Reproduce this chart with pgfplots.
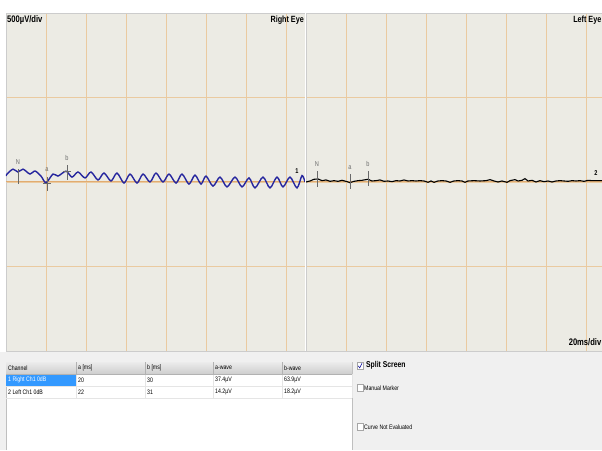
\documentclass[border=0pt]{standalone}
\usepackage{pgfplots}
\pgfplotsset{compat=1.18}
\usepackage{fontspec}
\setmainfont{Liberation Sans}
\newfontfamily\cond[FakeStretch=0.8]{Liberation Sans}

\definecolor{chartbg}{RGB}{236,235,228}
\definecolor{gridor}{RGB}{234,202,160}
\definecolor{baseor}{RGB}{226,172,112}
\definecolor{bluetrace}{RGB}{38,38,158}
\definecolor{markgray}{RGB}{105,105,105}
\definecolor{hdrgray}{RGB}{206,206,206}
\definecolor{selblue}{RGB}{51,153,255}
\definecolor{panelgray}{RGB}{240,240,240}

\pgfplotsset{erg/.style={
  anchor=south west, scale only axis, height=338pt,
  ymin=-1000, ymax=1000,
  xtick={20,40,...,140}, ytick={-500,0,500},
  xticklabels={}, yticklabels={},
  major tick length=0pt,
  grid=major, major grid style={draw=gridor, line width=0.9pt},
  axis line style={draw=gray!40, line width=0.6pt},
  axis background/.style={fill=chartbg},
}}
\tikzset{mk/.style={markgray, line width=0.6pt},
  mklab/.style={font=\cond\fontsize{7}{7}\selectfont, text=markgray}}

\begin{document}
\begin{tikzpicture}
\useasboundingbox (0,0) rectangle (602pt,450pt);
\fill[white] (0,0) rectangle (602pt,450pt);
\fill[panelgray] (0,0) rectangle (602pt,98pt);

% Right eye panel
\begin{axis}[erg, at={(6pt,99pt)}, width=299pt, xmin=0, xmax=149.5]
\addplot[baseor, line width=1pt] coordinates {(0,0) (149.5,0)};
\addplot[bluetrace, line width=1.4pt, smooth] coordinates {
(0,35) (0.5,47) (3.5,76) (6,59) (8.5,76) (12,47) (14.5,65) (17.5,35)
(20,-4) (23.5,47) (26,35) (30,64) (33,29) (36,59) (39.5,24) (42.5,59)
(46,12) (49,53) (52.5,6) (55.5,53) (59,-6) (62,47) (65.5,-6) (68.5,47)
(72,0) (75,53) (78.5,0) (81.5,47) (85,-6) (88,47) (91.5,-12) (94.5,41)
(97.5,-12) (100,35) (103.5,-24) (107,29) (110.5,-29) (114.5,29) (118,-29)
(121.5,24) (124.5,-35) (128.5,29) (132,-35) (135.5,29) (138.5,-29) (142,29)
(145.5,-35) (148,38) (149.5,0)};
\addplot[mk] coordinates {(6,76) (6,-12)};
\addplot[mk] coordinates {(20.5,29) (20.5,-53)};
\addplot[mk] coordinates {(18.5,-6) (22.5,-6)};
\addplot[mk] coordinates {(30.5,100) (30.5,12)};
\addplot[mk] coordinates {(28.5,65) (32.5,65)};
\node[mklab] at (axis cs:6,118) {N};
\node[mklab] at (axis cs:20.5,76) {a};
\node[mklab] at (axis cs:30.5,141) {b};
\node[font=\cond\bfseries\fontsize{7}{7}\selectfont] at (axis cs:145.5,65) {1};
\end{axis}

% Left eye panel
\begin{axis}[erg, at={(306pt,99pt)}, width=296pt, xmin=0, xmax=148]
\addplot[baseor, line width=1pt] coordinates {(0,0) (148,0)};
\addplot[black, line width=1.1pt] coordinates {
(0,0) (2,6) (4,16) (6,18) (8,8) (10,12) (12,4) (14,8) (16,4) (18,10)
(20,4) (22,-4) (24,4) (26,8) (28,10) (31,16) (33,6) (35,8) (37,12) (39,4)
(41,6) (43,2) (45,8) (47,6) (49,12) (51,6) (53,8) (55,6) (57,8) (59,6)
(61,-2) (62.5,6) (64,-2) (66,6) (68,8) (70,6) (72,-2) (74,6) (76,8) (78,6)
(79.5,-2) (81,6) (84,8) (87,6) (90,8) (92,14) (94,6) (96,0) (98,6)
(100.5,-2) (102,8) (104.5,14) (106,6) (108,10) (109.5,20) (111,6) (113,10)
(115,0) (117,8) (119,2) (121,6) (123,0) (125,6) (127,8) (129,6) (131,4)
(133,8) (135,6) (137,8) (139,4) (141,10) (143,8) (145.5,8) (148,8)};
\addplot[mk] coordinates {(5.5,65) (5.5,-29)};
\addplot[mk] coordinates {(22,47) (22,-41)};
\addplot[mk] coordinates {(31,65) (31,-24)};
\node[mklab] at (axis cs:5.5,106) {N};
\node[mklab] at (axis cs:22,82) {a};
\node[mklab] at (axis cs:31,106) {b};
\node[font=\cond\bfseries\fontsize{7}{7}\selectfont] at (axis cs:145,50) {2};
\end{axis}

\begin{scope}[x=1pt, y=-1pt, yshift=450pt]
% white split between the two panels
\draw[white, line width=1pt] (305.5,13.5) -- (305.5,351);
% chart captions
\node[anchor=west, inner sep=0pt, font=\cond\bfseries\fontsize{9.5}{9.5}\selectfont] at (7,20) {500µV/div};
\node[anchor=east, inner sep=0pt, font=\cond\bfseries\fontsize{9}{9}\selectfont] at (304,20) {Right Eye};
\node[anchor=east, inner sep=0pt, font=\cond\bfseries\fontsize{9}{9}\selectfont] at (601.5,20) {Left Eye};
\node[anchor=east, inner sep=0pt, font=\cond\bfseries\fontsize{9.5}{9.5}\selectfont] at (601.5,342) {20ms/div};

% table
\fill[white] (6,362) rectangle (352,450);
\draw[gray!50] (6,450) -- (6,362) -- (352,362) -- (352,450);
\shade[top color=gray!15, bottom color=hdrgray] (6,362) rectangle (352,374);
\fill[selblue] (6,374) rectangle (76,386);
\foreach \x in {76,145,213,282}
  \draw[gray!60] (\x,362) -- (\x,374);
\foreach \x in {76,145,213,282,352}
  \draw[gray!20] (\x,374) -- (\x,398);
\draw[gray!60] (6,374) -- (352,374);
\draw[gray!20] (6,386) -- (352,386) (6,398) -- (352,398);
\begin{scope}[every node/.style={anchor=west, inner sep=0pt, font=\cond\fontsize{6.5}{6.5}\selectfont}]
\node at (8,368) {Channel};
\node at (78,368) {a [ms]};
\node at (147,368) {b [ms]};
\node at (215,368) {a-wave};
\node at (284,368) {b-wave};
\node[text=white] at (8,380) {1 Right Ch1 0dB};
\node at (78,380) {20};
\node at (147,380) {30};
\node at (215,380) {37.4µV};
\node at (284,380) {63.9µV};
\node at (8,392) {2 Left Ch1 0dB};
\node at (78,392) {22};
\node at (147,392) {31};
\node at (215,392) {14.2µV};
\node at (284,392) {18.2µV};
\end{scope}

% check boxes
\draw[gray!70, fill=white] (357,362) rectangle (363,369);
\draw[blue!60!black, line width=0.5pt] (358.2,365.8) -- (359.7,367.8) -- (362,363.2);
\node[anchor=west, inner sep=0pt, font=\cond\bfseries\fontsize{8.5}{8.5}\selectfont] at (366,365.5) {Split Screen};
\draw[gray!70, fill=white] (357,384) rectangle (363,391);
\node[anchor=west, inner sep=0pt, font=\cond\fontsize{6.5}{6.5}\selectfont] at (364,388) {Manual Marker};
\draw[gray!70, fill=white] (357,423) rectangle (363,430);
\node[anchor=west, inner sep=0pt, font=\cond\fontsize{6.5}{6.5}\selectfont] at (364,427) {Curve Not Evaluated};
\end{scope}
\end{tikzpicture}
\end{document}
